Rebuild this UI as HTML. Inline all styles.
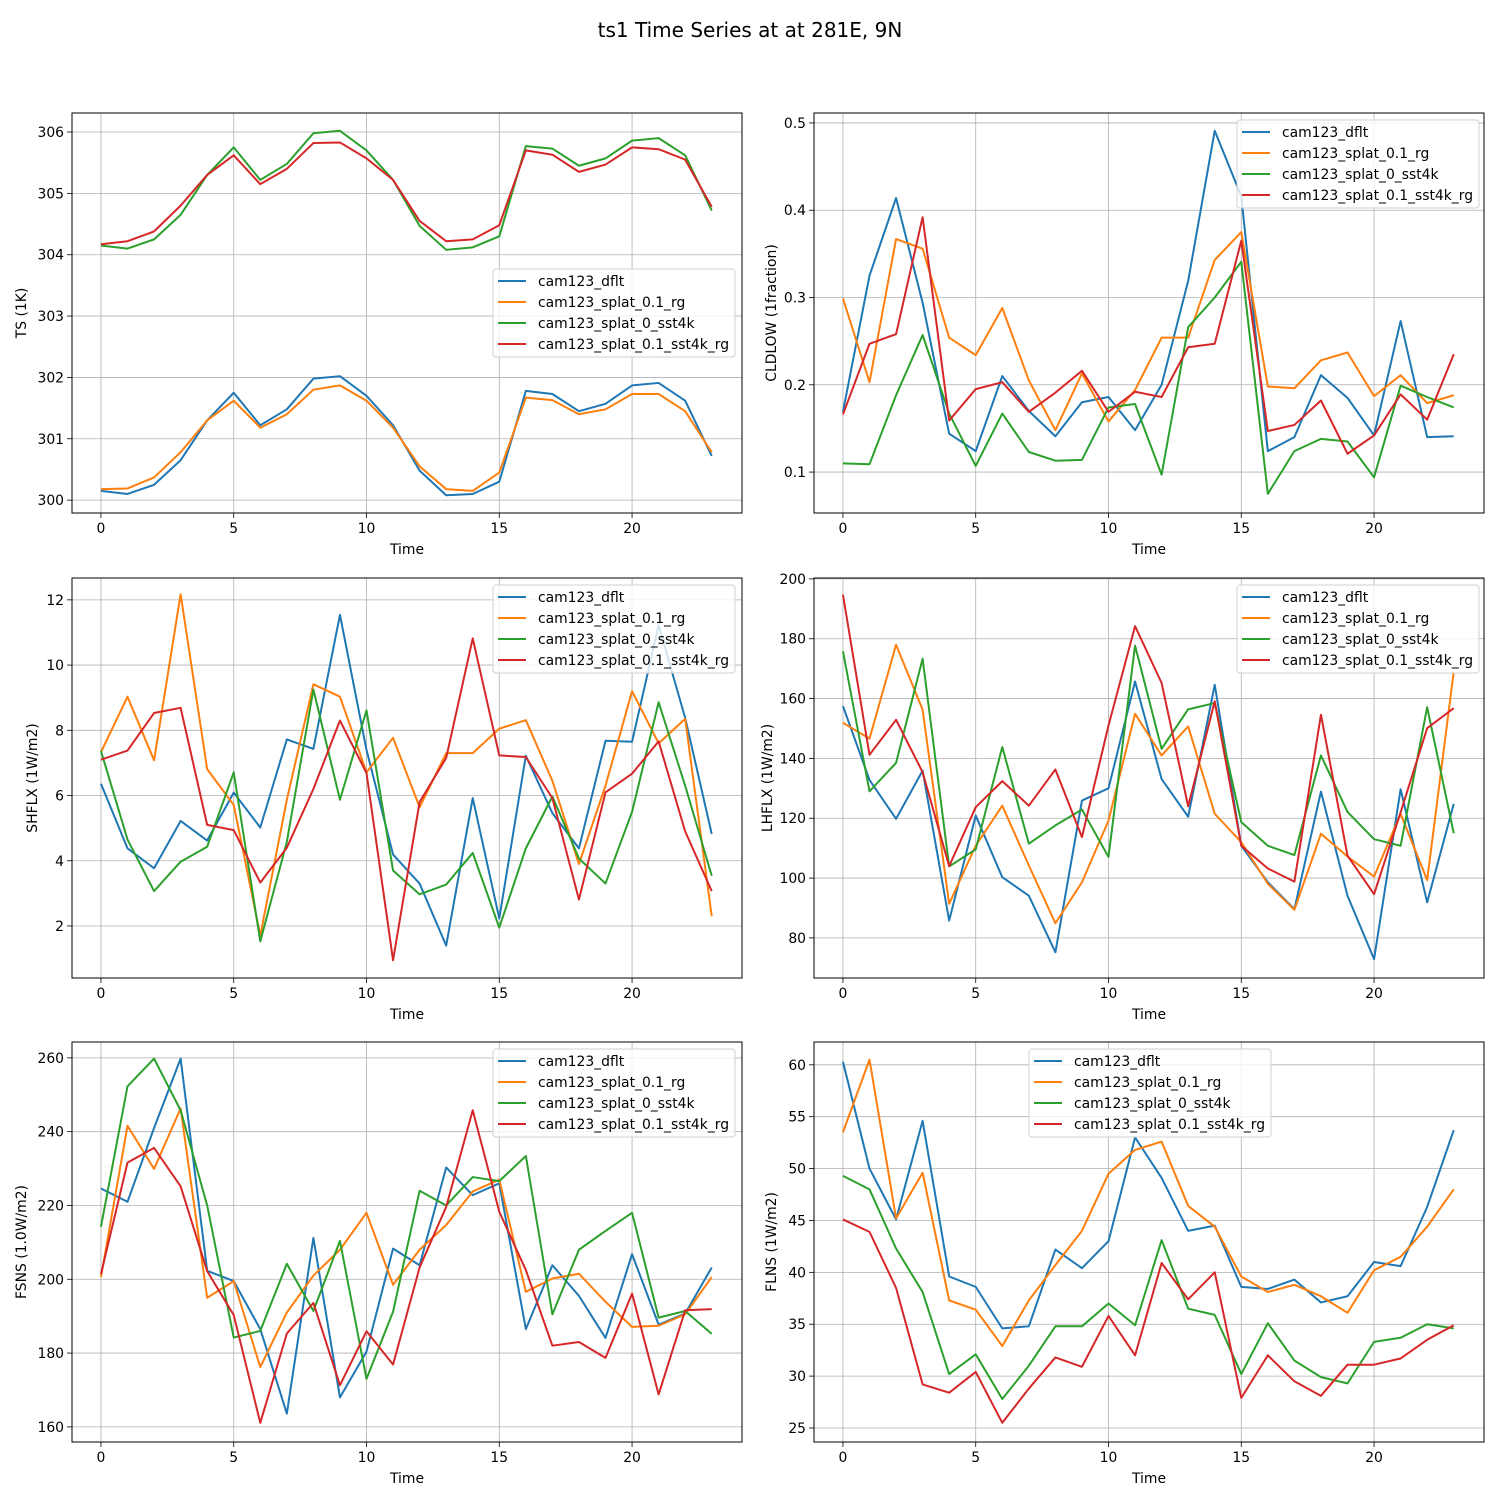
<!DOCTYPE html>
<html><head><meta charset="utf-8"><style>
body{margin:0;background:#fff;}
svg{display:block;font-family:"DejaVu Sans","Liberation Sans",sans-serif;}
</style></head><body>
<svg id="fig" width="1500" height="1500" viewBox="0 0 1500 1500">
<rect width="1500" height="1500" fill="#fff"/>
<text x="750" y="37" font-size="20" text-anchor="middle">ts1 Time Series at at 281E, 9N</text>
</svg>
<script>
const seriesNames = ["cam123_dflt","cam123_splat_0.1_rg","cam123_splat_0_sst4k","cam123_splat_0.1_sst4k_rg"];
const xTicks = [0,5,10,15,20];
const ts_dflt = [300.15,300.1,300.25,300.65,301.3,301.75,301.22,301.48,301.98,302.02,301.7,301.22,300.48,300.08,300.1,300.3,301.78,301.73,301.45,301.57,301.87,301.91,301.62,300.72];
const ts_rg = [300.18,300.19,300.37,300.78,301.3,301.62,301.18,301.4,301.8,301.87,301.62,301.18,300.55,300.18,300.15,300.45,301.67,301.63,301.4,301.48,301.73,301.73,301.45,300.78];
const ts_sst4k = [304.15,304.1,304.25,304.65,305.3,305.75,305.22,305.48,305.98,306.02,305.7,305.22,304.47,304.08,304.12,304.3,305.77,305.73,305.45,305.57,305.86,305.9,305.62,304.72];
const ts_sst4k_rg = [304.17,304.22,304.38,304.8,305.3,305.62,305.15,305.4,305.82,305.83,305.57,305.22,304.55,304.22,304.25,304.48,305.7,305.63,305.35,305.47,305.75,305.72,305.55,304.78];
const ts_ticks = [300,301,302,303,304,305,306];
const cl_dflt = [0.169,0.325,0.414,0.294,0.144,0.124,0.21,0.17,0.141,0.18,0.186,0.148,0.2,0.319,0.491,0.416,0.124,0.14,0.211,0.185,0.142,0.273,0.14,0.141];
const cl_rg = [0.299,0.203,0.367,0.356,0.254,0.234,0.288,0.205,0.148,0.213,0.158,0.194,0.254,0.254,0.343,0.375,0.198,0.196,0.228,0.237,0.187,0.211,0.179,0.188];
const cl_sst4k = [0.11,0.109,0.188,0.257,0.167,0.107,0.167,0.123,0.113,0.114,0.174,0.178,0.097,0.266,0.3,0.341,0.075,0.124,0.138,0.135,0.094,0.199,0.186,0.174];
const cl_sst4k_rg = [0.166,0.247,0.258,0.392,0.159,0.195,0.203,0.169,0.191,0.216,0.169,0.192,0.186,0.243,0.247,0.365,0.147,0.154,0.182,0.121,0.142,0.189,0.16,0.235];
const cl_ticks = [0.1,0.2,0.3,0.4,0.5];
const sh_dflt = [6.36,4.38,3.77,5.22,4.62,6.09,5.02,7.72,7.43,11.54,7.4,4.19,3.3,1.4,5.92,2.23,7.22,5.46,4.38,7.68,7.65,11.22,8.38,4.82];
const sh_rg = [7.33,9.03,7.08,12.17,6.81,5.71,1.71,5.87,9.41,9.03,6.71,7.77,5.64,7.3,7.3,8.05,8.31,6.45,3.9,6.3,9.2,7.6,8.35,2.3];
const sh_sst4k = [7.37,4.65,3.07,3.97,4.43,6.71,1.53,4.58,9.25,5.87,8.61,3.7,2.97,3.27,4.24,1.95,4.38,5.97,4.07,3.3,5.5,8.86,6.3,3.54];
const sh_sst4k_rg = [7.1,7.38,8.53,8.69,5.1,4.94,3.33,4.4,6.2,8.3,6.69,0.95,5.8,7.15,10.82,7.23,7.18,5.92,2.81,6.1,6.67,7.66,4.9,3.07];
const sh_ticks = [2,4,6,8,10,12];
const lh_dflt = [157.5,132.8,119.8,135.9,85.8,120.9,100.3,94.1,75.2,125.9,130,165.7,133.1,120.5,164.6,110.8,98.6,89.6,128.9,94.1,72.9,129.7,91.9,124.8];
const lh_rg = [151.9,146.6,178,156.3,91.4,110.8,124.2,104.2,84.9,98.6,119.2,154.9,141,150.7,121.5,112,98.1,89.4,114.8,107.2,100.5,121.5,99.3,169];
const lh_sst4k = [175.8,129,138.5,173.3,103.9,109.6,143.8,111.5,117.6,122.9,107.1,177.7,143.2,156.4,158.5,118.7,110.8,107.7,141,122.1,113,110.8,157.1,115];
const lh_sst4k_rg = [194.7,141.2,152.9,135.4,104,123.7,132.4,124.2,136.3,113.7,151,184.2,165.2,124,159.1,110.8,103.2,98.8,154.6,107.5,94.6,122,150.1,156.8];
const lh_ticks = [80,100,120,140,160,180,200];
const fs_dflt = [224.6,221,241,259.8,202.3,199.5,186.5,163.6,211.2,168,180.4,208.3,203.8,230.3,222.8,226,186.5,203.8,195.5,184.1,206.8,187.7,190.7,203.2];
const fs_rg = [200.6,241.6,229.9,246.3,195,199.5,176.2,191,201,208,218,198.5,208,214.7,223.8,227,196.6,200.2,201.5,193.9,187.1,187.4,190.5,200.6];
const fs_sst4k = [214.2,252.3,259.8,245.8,220,184.2,186,204.2,191.4,210.4,173,191.2,224,220,227.7,226.6,233.4,190.5,208,213.1,218,189.6,191.4,185.2];
const fs_sst4k_rg = [201.4,231.6,235.6,225.2,202.2,190.3,161.1,185.3,193.6,171.3,185.9,176.9,203.2,219.6,245.8,218.3,202.5,182,183,178.7,196.1,168.8,191.6,191.9];
const fs_ticks = [160,180,200,220,240,260];
const fl_dflt = [60.3,50,45.1,54.6,39.6,38.6,34.6,34.8,42.2,40.4,43,53,49.1,44,44.5,38.6,38.4,39.3,37.1,37.7,41,40.6,46.3,53.7];
const fl_rg = [53.5,60.5,45.2,49.6,37.3,36.4,32.9,37.3,40.7,44,49.5,51.8,52.6,46.4,44.4,39.6,38.1,38.8,37.7,36.1,40.2,41.5,44.4,48];
const fl_sst4k = [49.3,48,42.3,38.1,30.2,32.1,27.8,31,34.8,34.8,37,34.9,43.1,36.5,35.9,30.2,35.1,31.5,29.9,29.3,33.3,33.7,35,34.6];
const fl_sst4k_rg = [45.1,43.9,38.5,29.2,28.4,30.4,25.5,28.8,31.8,30.9,35.8,32,40.9,37.4,40,27.9,32,29.5,28.1,31.1,31.1,31.7,33.5,34.9];
const fl_ticks = [25,30,35,40,45,50,55,60];

const colors = ["#1f77b4","#ff7f0e","#2ca02c","#d62728"];
const NS = "http://www.w3.org/2000/svg";
const svg = document.getElementById("fig");
function mk(tag, attrs, parent){const e=document.createElementNS(NS,tag);for(const k in attrs)e.setAttribute(k,attrs[k]);(parent||svg).appendChild(e);return e;}

const panels = [
 {id:"ts",label:"TS (1K)",x0:72,y0:113,ymin:299.79,ymax:306.31,ticks:ts_ticks,fmt:v=>String(v),s:[ts_dflt,ts_rg,ts_sst4k,ts_sst4k_rg],leg:[493,269],ylx:22},
 {id:"cldlow",label:"CLDLOW (1fraction)",x0:814,y0:113,ymin:0.0531,ymax:0.5114,ticks:cl_ticks,fmt:v=>v.toFixed(1),s:[cl_dflt,cl_rg,cl_sst4k,cl_sst4k_rg],leg:[1237,120],ylx:772},
 {id:"shflx",label:"SHFLX (1W/m2)",x0:72,y0:578,ymin:0.405,ymax:12.67,ticks:sh_ticks,fmt:v=>String(v),s:[sh_dflt,sh_rg,sh_sst4k,sh_sst4k_rg],leg:[493,585],ylx:33},
 {id:"lhflx",label:"LHFLX (1W/m2)",x0:814,y0:578,ymin:66.6,ymax:200.3,ticks:lh_ticks,fmt:v=>String(v),s:[lh_dflt,lh_rg,lh_sst4k,lh_sst4k_rg],leg:[1237,585],ylx:768},
 {id:"fsns",label:"FSNS (1.0W/m2)",x0:72,y0:1042,ymin:155.9,ymax:264.3,ticks:fs_ticks,fmt:v=>String(v),s:[fs_dflt,fs_rg,fs_sst4k,fs_sst4k_rg],leg:[493,1049],ylx:22},
 {id:"flns",label:"FLNS (1W/m2)",x0:814,y0:1042,ymin:23.65,ymax:62.2,ticks:fl_ticks,fmt:v=>String(v),s:[fl_dflt,fl_rg,fl_sst4k,fl_sst4k_rg],leg:[1029,1049],ylx:772}
];
const W=670,H=400,XMIN=-1.09,XMAX=24.14;
panels.forEach(p=>{
 const g=mk("g",{});
 
 
 const sx=v=>p.x0+(v-XMIN)/(XMAX-XMIN)*W;
 const sy=v=>p.y0+H-(v-p.ymin)/(p.ymax-p.ymin)*H;
 // grid
 xTicks.forEach(t=>{const X=sx(t);
  const l=mk("line",{x1:X,x2:X,y1:p.y0,y2:p.y0+H,stroke:"#b0b0b0","stroke-width":0.8},g);
  
  mk("line",{x1:X,x2:X,y1:p.y0+H,y2:p.y0+H+5,stroke:"#000","stroke-width":0.8},g);
  const tx=mk("text",{x:X,y:p.y0+H+20,"font-size":13.9,"text-anchor":"middle"},g);tx.textContent=t;
  
 });
 p.ticks.forEach(t=>{const Y=sy(t);
  const l=mk("line",{x1:p.x0,x2:p.x0+W,y1:Y,y2:Y,stroke:"#b0b0b0","stroke-width":0.8},g);
  
  mk("line",{x1:p.x0-5,x2:p.x0,y1:Y,y2:Y,stroke:"#000","stroke-width":0.8},g);
  const tx=mk("text",{x:p.x0-8,y:Y+5,"font-size":13.9,"text-anchor":"end"},g);tx.textContent=p.fmt(t);
  
 });
 // series
 p.s.forEach((arr,i)=>{
  const pts=arr.map((v,k)=>sx(k).toFixed(2)+","+sy(v).toFixed(2)).join(" ");
  const pl=mk("polyline",{points:pts,fill:"none",stroke:colors[i],"stroke-width":2,"stroke-linejoin":"round"},g);
  
  
 });
 const fr=mk("rect",{x:p.x0,y:p.y0,width:W,height:H,fill:"none",stroke:"#000","stroke-width":1},g);
 
 const xl=mk("text",{x:p.x0+W/2,y:p.y0+H+41,"font-size":13.9,"text-anchor":"middle"},g);xl.textContent="Time";
 
 const cy=p.y0+H/2;
 const yl=mk("text",{x:p.ylx+4,y:cy,"font-size":13.9,"text-anchor":"middle",transform:`rotate(-90 ${p.ylx+4} ${cy})`},g);yl.textContent=p.label;
 
 // legend
 const lg=mk("g",{},g);
 
 const [lx,ly]=p.leg;
 mk("rect",{x:lx,y:ly,width:242,height:88,rx:3,fill:"#fff","fill-opacity":0.8,stroke:"#d0d0d0","stroke-width":1},lg);
 seriesNames.forEach((n,i)=>{const yy=ly+12+i*21;
  const e=mk("g",{},lg);
  
  mk("line",{x1:lx+5,x2:lx+33,y1:yy,y2:yy,stroke:colors[i],"stroke-width":2},e);
  const t=mk("text",{x:lx+45,y:yy+5,"font-size":13.9},e);t.textContent=n;
 });
});
</script>
</body></html>
